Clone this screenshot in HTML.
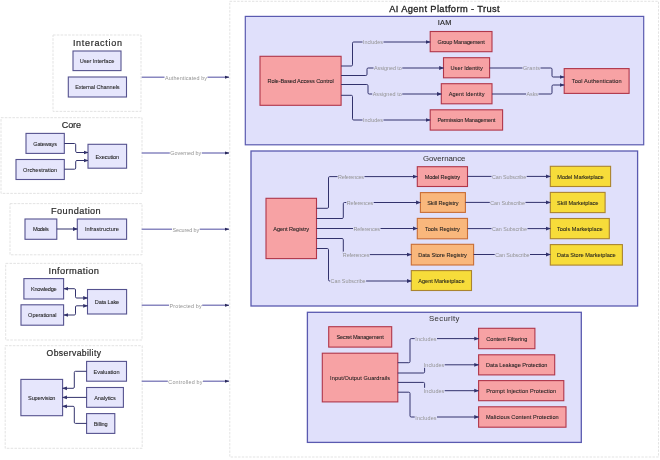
<!DOCTYPE html>
<html><head><meta charset="utf-8"><style>
html,body{margin:0;padding:0;background:#fff;width:660px;height:460px;overflow:hidden}
svg{display:block;font-family:"Liberation Sans",sans-serif;filter:blur(0.35px)}
</style></head><body>
<svg width="660" height="460" viewBox="0 0 660 460">
<defs>
<marker id="a" viewBox="0 0 10 10" refX="9" refY="5" markerUnits="userSpaceOnUse" markerWidth="4.8" markerHeight="4.8" orient="auto"><path d="M0,1 L10,5 L0,9 z" fill="#32326c"/></marker>
<marker id="as" viewBox="0 0 10 10" refX="1" refY="5" markerUnits="userSpaceOnUse" markerWidth="4.8" markerHeight="4.8" orient="auto"><path d="M10,1 L0,5 L10,9 z" fill="#32326c"/></marker>
<marker id="b" viewBox="0 0 10 10" refX="9" refY="5" markerUnits="userSpaceOnUse" markerWidth="4.5" markerHeight="4.5" orient="auto"><path d="M0,1.5 L10,5 L0,8.5 z" fill="#2a2a5a"/></marker>
</defs>
<rect x="53.0" y="35.0" width="88.0" height="76.4" fill="#ffffff" stroke="#e0e0e0" stroke-width="0.9" stroke-dasharray="2.6 1.2"/>
<rect x="1.0" y="117.7" width="141.0" height="75.7" fill="#ffffff" stroke="#e0e0e0" stroke-width="0.9" stroke-dasharray="2.6 1.2"/>
<rect x="10.0" y="203.6" width="132.0" height="51.2" fill="#ffffff" stroke="#e0e0e0" stroke-width="0.9" stroke-dasharray="2.6 1.2"/>
<rect x="5.7" y="263.4" width="136.3" height="76.6" fill="#ffffff" stroke="#e0e0e0" stroke-width="0.9" stroke-dasharray="2.6 1.2"/>
<rect x="5.2" y="345.7" width="137.0" height="102.6" fill="#ffffff" stroke="#e0e0e0" stroke-width="0.9" stroke-dasharray="2.6 1.2"/>
<rect x="229.8" y="1.3" width="428.7" height="455.7" fill="#ffffff" stroke="#e0e0e0" stroke-width="0.9" stroke-dasharray="2.4 1.3"/>
<text x="97.4" y="45.5" font-size="9.01" fill="#2a2a2a" text-anchor="middle" textLength="49.0" lengthAdjust="spacing" stroke="#2a2a2a" stroke-width="0.2">Interaction</text>
<text x="71.4" y="128.2" font-size="9.01" fill="#2a2a2a" text-anchor="middle" textLength="19.2" lengthAdjust="spacing" stroke="#2a2a2a" stroke-width="0.2">Core</text>
<text x="75.9" y="213.8" font-size="9.16" fill="#2a2a2a" text-anchor="middle" textLength="49.6" lengthAdjust="spacing" stroke="#2a2a2a" stroke-width="0.2">Foundation</text>
<text x="73.7" y="273.5" font-size="9.30" fill="#2a2a2a" text-anchor="middle" textLength="50.4" lengthAdjust="spacing" stroke="#2a2a2a" stroke-width="0.2">Information</text>
<text x="73.8" y="355.8" font-size="8.58" fill="#2a2a2a" text-anchor="middle" textLength="54.4" lengthAdjust="spacing" stroke="#2a2a2a" stroke-width="0.2">Observability</text>
<path d="M141.7,77.2 L229.0,77.2" fill="none" stroke="#8987c0" stroke-width="1.45" marker-end="url(#b)"/>
<rect x="164.5" y="74.2" width="43.0" height="6" fill="#ffffff"/>
<text x="186.0" y="77.5" font-size="5.4" fill="#939393" font-weight="normal" text-anchor="middle" dominant-baseline="central" textLength="42.0" lengthAdjust="spacing">Authenticated by</text>
<path d="M141.7,153.0 L229.0,153.0" fill="none" stroke="#8987c0" stroke-width="1.45" marker-end="url(#b)"/>
<rect x="169.8" y="150.0" width="32.0" height="6" fill="#ffffff"/>
<text x="185.8" y="153.3" font-size="5.4" fill="#939393" font-weight="normal" text-anchor="middle" dominant-baseline="central" textLength="31.0" lengthAdjust="spacing">Governed by</text>
<path d="M141.7,229.2 L229.0,229.2" fill="none" stroke="#8987c0" stroke-width="1.45" marker-end="url(#b)"/>
<rect x="172.0" y="226.2" width="27.7" height="6" fill="#ffffff"/>
<text x="185.8" y="229.5" font-size="5.4" fill="#939393" font-weight="normal" text-anchor="middle" dominant-baseline="central" textLength="26.7" lengthAdjust="spacing">Secured by</text>
<path d="M141.7,305.3 L229.0,305.3" fill="none" stroke="#8987c0" stroke-width="1.45" marker-end="url(#b)"/>
<rect x="169.0" y="302.3" width="33.2" height="6" fill="#ffffff"/>
<text x="185.6" y="305.7" font-size="5.4" fill="#939393" font-weight="normal" text-anchor="middle" dominant-baseline="central" textLength="32.2" lengthAdjust="spacing">Protected by</text>
<path d="M141.7,381.2 L229.0,381.2" fill="none" stroke="#8987c0" stroke-width="1.45" marker-end="url(#b)"/>
<rect x="167.8" y="378.2" width="35.2" height="6" fill="#ffffff"/>
<text x="185.4" y="381.6" font-size="5.4" fill="#939393" font-weight="normal" text-anchor="middle" dominant-baseline="central" textLength="34.2" lengthAdjust="spacing">Controlled by</text>
<rect x="73.0" y="51.0" width="48.0" height="19.6" fill="#e6e6fc" stroke="#55528f" stroke-width="1.1"/>
<text x="97.0" y="61.0" font-size="5.6" fill="#1e1e1e" font-weight="normal" text-anchor="middle" dominant-baseline="central" textLength="34.6" lengthAdjust="spacing" stroke="#1e1e1e" stroke-width="0.07">User Interface</text>
<rect x="68.3" y="77.0" width="58.2" height="20.0" fill="#e6e6fc" stroke="#55528f" stroke-width="1.1"/>
<text x="97.4" y="87.2" font-size="5.6" fill="#1e1e1e" font-weight="normal" text-anchor="middle" dominant-baseline="central" textLength="44.5" lengthAdjust="spacing" stroke="#1e1e1e" stroke-width="0.07">External Channels</text>
<rect x="26.0" y="133.4" width="38.3" height="20.0" fill="#e6e6fc" stroke="#55528f" stroke-width="1.1"/>
<text x="45.1" y="143.7" font-size="5.6" fill="#1e1e1e" font-weight="normal" text-anchor="middle" dominant-baseline="central" textLength="23.8" lengthAdjust="spacing" stroke="#1e1e1e" stroke-width="0.07">Gateways</text>
<rect x="16.0" y="159.5" width="48.3" height="20.0" fill="#e6e6fc" stroke="#55528f" stroke-width="1.1"/>
<text x="40.1" y="169.8" font-size="5.6" fill="#1e1e1e" font-weight="normal" text-anchor="middle" dominant-baseline="central" textLength="34.0" lengthAdjust="spacing" stroke="#1e1e1e" stroke-width="0.07">Orchestration</text>
<rect x="88.0" y="144.3" width="38.6" height="23.9" fill="#e6e6fc" stroke="#55528f" stroke-width="1.1"/>
<text x="107.3" y="156.5" font-size="5.6" fill="#1e1e1e" font-weight="normal" text-anchor="middle" dominant-baseline="central" textLength="23.6" lengthAdjust="spacing" stroke="#1e1e1e" stroke-width="0.07">Execution</text>
<rect x="25.0" y="219.0" width="31.8" height="20.3" fill="#e6e6fc" stroke="#55528f" stroke-width="1.1"/>
<text x="40.9" y="229.4" font-size="5.6" fill="#1e1e1e" font-weight="normal" text-anchor="middle" dominant-baseline="central" textLength="15.9" lengthAdjust="spacing" stroke="#1e1e1e" stroke-width="0.07">Models</text>
<rect x="77.3" y="219.0" width="49.3" height="20.3" fill="#e6e6fc" stroke="#55528f" stroke-width="1.1"/>
<text x="101.9" y="229.4" font-size="5.6" fill="#1e1e1e" font-weight="normal" text-anchor="middle" dominant-baseline="central" textLength="34.0" lengthAdjust="spacing" stroke="#1e1e1e" stroke-width="0.07">Infrastructure</text>
<rect x="23.9" y="278.6" width="39.7" height="20.4" fill="#e6e6fc" stroke="#55528f" stroke-width="1.1"/>
<text x="43.8" y="289.1" font-size="5.6" fill="#1e1e1e" font-weight="normal" text-anchor="middle" dominant-baseline="central" textLength="25.7" lengthAdjust="spacing" stroke="#1e1e1e" stroke-width="0.07">Knowledge</text>
<rect x="21.0" y="304.8" width="42.6" height="20.4" fill="#e6e6fc" stroke="#55528f" stroke-width="1.1"/>
<text x="42.3" y="315.2" font-size="5.6" fill="#1e1e1e" font-weight="normal" text-anchor="middle" dominant-baseline="central" textLength="28.4" lengthAdjust="spacing" stroke="#1e1e1e" stroke-width="0.07">Operational</text>
<rect x="87.5" y="289.5" width="39.1" height="24.5" fill="#e6e6fc" stroke="#55528f" stroke-width="1.1"/>
<text x="107.0" y="302.0" font-size="5.6" fill="#1e1e1e" font-weight="normal" text-anchor="middle" dominant-baseline="central" textLength="24.3" lengthAdjust="spacing" stroke="#1e1e1e" stroke-width="0.07">Data Lake</text>
<rect x="86.6" y="361.4" width="39.9" height="19.8" fill="#e6e6fc" stroke="#55528f" stroke-width="1.1"/>
<text x="106.5" y="371.5" font-size="5.6" fill="#1e1e1e" font-weight="normal" text-anchor="middle" dominant-baseline="central" textLength="26.1" lengthAdjust="spacing" stroke="#1e1e1e" stroke-width="0.07">Evaluation</text>
<rect x="86.6" y="387.5" width="36.8" height="19.8" fill="#e6e6fc" stroke="#55528f" stroke-width="1.1"/>
<text x="105.0" y="397.6" font-size="5.6" fill="#1e1e1e" font-weight="normal" text-anchor="middle" dominant-baseline="central" textLength="21.7" lengthAdjust="spacing" stroke="#1e1e1e" stroke-width="0.07">Analytics</text>
<rect x="86.6" y="413.6" width="28.2" height="19.8" fill="#e6e6fc" stroke="#55528f" stroke-width="1.1"/>
<text x="100.7" y="423.8" font-size="5.6" fill="#1e1e1e" font-weight="normal" text-anchor="middle" dominant-baseline="central" textLength="13.8" lengthAdjust="spacing" stroke="#1e1e1e" stroke-width="0.07">Billing</text>
<rect x="20.9" y="379.4" width="41.7" height="36.3" fill="#e6e6fc" stroke="#55528f" stroke-width="1.1"/>
<text x="41.8" y="397.8" font-size="5.6" fill="#1e1e1e" font-weight="normal" text-anchor="middle" dominant-baseline="central" textLength="27.4" lengthAdjust="spacing" stroke="#1e1e1e" stroke-width="0.07">Supervision</text>
<path d="M64.3,143.5 L74.5,143.5 Q75.7,143.5 75.7,144.7 L75.7,151.3 Q75.7,152.5 76.9,152.5 L88.0,152.5" fill="none" stroke="#32326c" stroke-width="1.0" marker-end="url(#a)"/>
<path d="M64.3,169.2 L74.5,169.2 Q75.7,169.2 75.7,168.0 L75.7,161.7 Q75.7,160.5 76.9,160.5 L88.0,160.5" fill="none" stroke="#32326c" stroke-width="1.0" marker-end="url(#a)"/>
<path d="M56.8,229.0 L77.3,229.0" fill="none" stroke="#32326c" stroke-width="1.0" marker-end="url(#a)"/>
<path d="M64.0,288.7 L74.3,288.7 Q75.5,288.7 75.5,289.9 L75.5,296.8 Q75.5,298.0 76.7,298.0 L87.5,298.0" fill="none" stroke="#32326c" stroke-width="1.0" marker-end="url(#a)" marker-start="url(#as)"/>
<path d="M64.0,315.0 L74.3,315.0 Q75.5,315.0 75.5,313.8 L75.5,307.0 Q75.5,305.8 76.7,305.8 L87.5,305.8" fill="none" stroke="#32326c" stroke-width="1.0" marker-end="url(#a)" marker-start="url(#as)"/>
<path d="M86.6,371.3 L75.5,371.3 Q74.3,371.3 74.3,372.5 L74.3,387.1 Q74.3,388.3 73.1,388.3 L62.6,388.3" fill="none" stroke="#32326c" stroke-width="1.0" marker-end="url(#a)"/>
<path d="M86.6,397.4 L62.6,397.4" fill="none" stroke="#32326c" stroke-width="1.0" marker-end="url(#a)"/>
<path d="M86.6,423.4 L75.5,423.4 Q74.3,423.4 74.3,422.2 L74.3,407.5 Q74.3,406.3 73.1,406.3 L62.6,406.3" fill="none" stroke="#32326c" stroke-width="1.0" marker-end="url(#a)"/>
<text x="444.4" y="12.0" font-size="9.30" fill="#222222" text-anchor="middle" textLength="110.5" lengthAdjust="spacing" stroke="#222222" stroke-width="0.3">AI Agent Platform - Trust</text>
<rect x="245.3" y="16.4" width="398.4" height="128.4" fill="#e0e0fb" stroke="#5a5ab0" stroke-width="1.2"/>
<rect x="251.0" y="151.0" width="386.6" height="155.0" fill="#e0e0fb" stroke="#5a5ab0" stroke-width="1.3"/>
<rect x="307.4" y="312.3" width="273.9" height="130.1" fill="#e0e0fb" stroke="#5a5ab0" stroke-width="1.3"/>
<text x="444.5" y="25.1" font-size="7.41" fill="#2a2a2a" text-anchor="middle" textLength="13.7" lengthAdjust="spacing" stroke="#2a2a2a" stroke-width="0.15">IAM</text>
<text x="444.2" y="160.7" font-size="7.85" fill="#383838" text-anchor="middle" textLength="42.5" lengthAdjust="spacing" stroke="#383838" stroke-width="0.05">Governance</text>
<text x="444.2" y="320.8" font-size="7.70" fill="#383838" text-anchor="middle" textLength="30.3" lengthAdjust="spacing" stroke="#383838" stroke-width="0.05">Security</text>
<rect x="260.0" y="56.3" width="81.1" height="49.0" fill="#f7a2a4" stroke="#b0364a" stroke-width="1.1"/>
<text x="300.6" y="81.0" font-size="5.6" fill="#1e1e1e" font-weight="normal" text-anchor="middle" dominant-baseline="central" textLength="66.3" lengthAdjust="spacing" stroke="#1e1e1e" stroke-width="0.07">Role-Based Access Control</text>
<rect x="430.2" y="31.5" width="61.8" height="20.2" fill="#f7a2a4" stroke="#b0364a" stroke-width="1.1"/>
<text x="461.1" y="41.9" font-size="5.6" fill="#1e1e1e" font-weight="normal" text-anchor="middle" dominant-baseline="central" textLength="47.2" lengthAdjust="spacing" stroke="#1e1e1e" stroke-width="0.07">Group Management</text>
<rect x="443.5" y="57.7" width="46.1" height="20.1" fill="#f7a2a4" stroke="#b0364a" stroke-width="1.1"/>
<text x="466.6" y="68.0" font-size="5.6" fill="#1e1e1e" font-weight="normal" text-anchor="middle" dominant-baseline="central" textLength="32.2" lengthAdjust="spacing" stroke="#1e1e1e" stroke-width="0.07">User Identity</text>
<rect x="441.3" y="83.7" width="50.7" height="20.1" fill="#f7a2a4" stroke="#b0364a" stroke-width="1.1"/>
<text x="466.6" y="94.0" font-size="5.6" fill="#1e1e1e" font-weight="normal" text-anchor="middle" dominant-baseline="central" textLength="35.8" lengthAdjust="spacing" stroke="#1e1e1e" stroke-width="0.07">Agent Identity</text>
<rect x="430.2" y="109.8" width="72.4" height="20.3" fill="#f7a2a4" stroke="#b0364a" stroke-width="1.1"/>
<text x="466.4" y="120.2" font-size="5.6" fill="#1e1e1e" font-weight="normal" text-anchor="middle" dominant-baseline="central" textLength="58.0" lengthAdjust="spacing" stroke="#1e1e1e" stroke-width="0.07">Permission Management</text>
<rect x="564.2" y="68.6" width="64.9" height="24.8" fill="#f7a2a4" stroke="#b0364a" stroke-width="1.1"/>
<text x="596.7" y="81.2" font-size="5.6" fill="#1e1e1e" font-weight="normal" text-anchor="middle" dominant-baseline="central" textLength="50.0" lengthAdjust="spacing" stroke="#1e1e1e" stroke-width="0.07">Tool Authentication</text>
<path d="M341.1,66.0 L351.3,66.0 Q352.5,66.0 352.5,64.8 L352.5,43.2 Q352.5,42.0 353.7,42.0 L430.2,42.0" fill="none" stroke="#32326c" stroke-width="1.0" marker-end="url(#a)"/>
<path d="M341.1,75.5 L365.8,75.5 Q367.0,75.5 367.0,74.3 L367.0,69.2 Q367.0,68.0 368.2,68.0 L443.5,68.0" fill="none" stroke="#32326c" stroke-width="1.0" marker-end="url(#a)"/>
<path d="M341.1,84.5 L366.8,84.5 Q368.0,84.5 368.0,85.7 L368.0,92.8 Q368.0,94.0 369.2,94.0 L441.3,94.0" fill="none" stroke="#32326c" stroke-width="1.0" marker-end="url(#a)"/>
<path d="M341.1,95.3 L351.3,95.3 Q352.5,95.3 352.5,96.5 L352.5,118.8 Q352.5,120.0 353.7,120.0 L430.2,120.0" fill="none" stroke="#32326c" stroke-width="1.0" marker-end="url(#a)"/>
<path d="M489.6,68.0 L550.8,68.0 Q552.0,68.0 552.0,69.2 L552.0,75.8 Q552.0,77.0 553.2,77.0 L564.2,77.0" fill="none" stroke="#32326c" stroke-width="1.0" marker-end="url(#a)"/>
<path d="M492.0,94.0 L550.8,94.0 Q552.0,94.0 552.0,92.8 L552.0,86.2 Q552.0,85.0 553.2,85.0 L564.2,85.0" fill="none" stroke="#32326c" stroke-width="1.0" marker-end="url(#a)"/>
<rect x="362.5" y="39.0" width="21.0" height="6" fill="#e0e0fb"/>
<text x="373.0" y="42.4" font-size="5.4" fill="#939393" font-weight="normal" text-anchor="middle" dominant-baseline="central" textLength="20.0" lengthAdjust="spacing">Includes</text>
<rect x="373.5" y="65.0" width="28.8" height="6" fill="#e0e0fb"/>
<text x="387.9" y="68.3" font-size="5.4" fill="#939393" font-weight="normal" text-anchor="middle" dominant-baseline="central" textLength="27.8" lengthAdjust="spacing">Assigned to</text>
<rect x="372.2" y="91.0" width="30.1" height="6" fill="#e0e0fb"/>
<text x="387.2" y="94.3" font-size="5.4" fill="#939393" font-weight="normal" text-anchor="middle" dominant-baseline="central" textLength="29.1" lengthAdjust="spacing">Assigned to</text>
<rect x="362.5" y="117.0" width="21.0" height="6" fill="#e0e0fb"/>
<text x="373.0" y="120.3" font-size="5.4" fill="#939393" font-weight="normal" text-anchor="middle" dominant-baseline="central" textLength="20.0" lengthAdjust="spacing">Includes</text>
<rect x="522.5" y="65.0" width="18.0" height="6" fill="#e0e0fb"/>
<text x="531.5" y="68.3" font-size="5.4" fill="#939393" font-weight="normal" text-anchor="middle" dominant-baseline="central" textLength="17.0" lengthAdjust="spacing">Grants</text>
<rect x="526.1" y="91.0" width="12.4" height="6" fill="#e0e0fb"/>
<text x="532.3" y="94.3" font-size="5.4" fill="#939393" font-weight="normal" text-anchor="middle" dominant-baseline="central" textLength="11.4" lengthAdjust="spacing">Asks</text>
<rect x="266.0" y="198.3" width="50.5" height="60.3" fill="#f7a2a4" stroke="#b0364a" stroke-width="1.1"/>
<text x="291.2" y="228.7" font-size="5.6" fill="#1e1e1e" font-weight="normal" text-anchor="middle" dominant-baseline="central" textLength="35.9" lengthAdjust="spacing" stroke="#1e1e1e" stroke-width="0.07">Agent Registry</text>
<rect x="417.3" y="166.7" width="50.2" height="19.8" fill="#f7a2a4" stroke="#b0364a" stroke-width="1.1"/>
<text x="442.4" y="176.8" font-size="5.6" fill="#1e1e1e" font-weight="normal" text-anchor="middle" dominant-baseline="central" textLength="35.5" lengthAdjust="spacing" stroke="#1e1e1e" stroke-width="0.07">Model Registry</text>
<rect x="420.4" y="192.6" width="45.0" height="19.8" fill="#f9b77c" stroke="#c86e36" stroke-width="1.1"/>
<text x="442.9" y="202.8" font-size="5.6" fill="#1e1e1e" font-weight="normal" text-anchor="middle" dominant-baseline="central" textLength="31.4" lengthAdjust="spacing" stroke="#1e1e1e" stroke-width="0.07">Skill Registry</text>
<rect x="417.3" y="218.4" width="50.2" height="20.4" fill="#f9b77c" stroke="#c86e36" stroke-width="1.1"/>
<text x="442.4" y="228.9" font-size="5.6" fill="#1e1e1e" font-weight="normal" text-anchor="middle" dominant-baseline="central" textLength="35.0" lengthAdjust="spacing" stroke="#1e1e1e" stroke-width="0.07">Tools Registry</text>
<rect x="411.3" y="244.3" width="62.3" height="20.7" fill="#f9b77c" stroke="#c86e36" stroke-width="1.1"/>
<text x="442.5" y="254.9" font-size="5.6" fill="#1e1e1e" font-weight="normal" text-anchor="middle" dominant-baseline="central" textLength="48.7" lengthAdjust="spacing" stroke="#1e1e1e" stroke-width="0.07">Data Store Registry</text>
<rect x="411.3" y="270.6" width="60.2" height="19.9" fill="#f7dc3a" stroke="#aa8430" stroke-width="1.1"/>
<text x="441.4" y="280.8" font-size="5.6" fill="#1e1e1e" font-weight="normal" text-anchor="middle" dominant-baseline="central" textLength="46.2" lengthAdjust="spacing" stroke="#1e1e1e" stroke-width="0.07">Agent Marketplace</text>
<rect x="550.3" y="166.3" width="60.3" height="20.2" fill="#f7dc3a" stroke="#aa8430" stroke-width="1.1"/>
<text x="580.5" y="176.7" font-size="5.6" fill="#1e1e1e" font-weight="normal" text-anchor="middle" dominant-baseline="central" textLength="46.3" lengthAdjust="spacing" stroke="#1e1e1e" stroke-width="0.07">Model Marketplace</text>
<rect x="550.3" y="192.4" width="54.8" height="20.2" fill="#f7dc3a" stroke="#aa8430" stroke-width="1.1"/>
<text x="577.7" y="202.8" font-size="5.6" fill="#1e1e1e" font-weight="normal" text-anchor="middle" dominant-baseline="central" textLength="41.4" lengthAdjust="spacing" stroke="#1e1e1e" stroke-width="0.07">Skill Marketplace</text>
<rect x="550.3" y="218.5" width="59.0" height="20.2" fill="#f7dc3a" stroke="#aa8430" stroke-width="1.1"/>
<text x="579.8" y="228.8" font-size="5.6" fill="#1e1e1e" font-weight="normal" text-anchor="middle" dominant-baseline="central" textLength="45.6" lengthAdjust="spacing" stroke="#1e1e1e" stroke-width="0.07">Tools Marketplace</text>
<rect x="550.3" y="244.6" width="72.1" height="20.5" fill="#f7dc3a" stroke="#aa8430" stroke-width="1.1"/>
<text x="586.3" y="255.1" font-size="5.6" fill="#1e1e1e" font-weight="normal" text-anchor="middle" dominant-baseline="central" textLength="58.7" lengthAdjust="spacing" stroke="#1e1e1e" stroke-width="0.07">Data Store Marketplace</text>
<path d="M316.5,208.3 L327.3,208.3 Q328.5,208.3 328.5,207.1 L328.5,177.8 Q328.5,176.6 329.7,176.6 L417.3,176.6" fill="none" stroke="#32326c" stroke-width="1.0" marker-end="url(#a)"/>
<path d="M316.5,218.5 L342.1,218.5 Q343.3,218.5 343.3,217.3 L343.3,203.7 Q343.3,202.5 344.5,202.5 L420.4,202.5" fill="none" stroke="#32326c" stroke-width="1.0" marker-end="url(#a)"/>
<path d="M316.5,228.5 L417.3,228.5" fill="none" stroke="#32326c" stroke-width="1.0" marker-end="url(#a)"/>
<path d="M316.5,238.5 L342.1,238.5 Q343.3,238.5 343.3,239.7 L343.3,253.4 Q343.3,254.6 344.5,254.6 L411.3,254.6" fill="none" stroke="#32326c" stroke-width="1.0" marker-end="url(#a)"/>
<path d="M316.5,248.5 L327.3,248.5 Q328.5,248.5 328.5,249.7 L328.5,279.8 Q328.5,281.0 329.7,281.0 L411.3,281.0" fill="none" stroke="#32326c" stroke-width="1.0" marker-end="url(#a)"/>
<path d="M467.5,176.4 L550.3,176.4" fill="none" stroke="#32326c" stroke-width="1.0" marker-end="url(#a)"/>
<path d="M465.4,202.4 L550.3,202.4" fill="none" stroke="#32326c" stroke-width="1.0" marker-end="url(#a)"/>
<path d="M467.5,228.6 L550.3,228.6" fill="none" stroke="#32326c" stroke-width="1.0" marker-end="url(#a)"/>
<path d="M473.6,254.5 L550.3,254.5" fill="none" stroke="#32326c" stroke-width="1.0" marker-end="url(#a)"/>
<rect x="337.5" y="173.6" width="27.0" height="6" fill="#e0e0fb"/>
<text x="351.0" y="176.9" font-size="5.4" fill="#939393" font-weight="normal" text-anchor="middle" dominant-baseline="central" textLength="26.0" lengthAdjust="spacing">References</text>
<rect x="346.3" y="199.5" width="27.4" height="6" fill="#e0e0fb"/>
<text x="360.0" y="202.8" font-size="5.4" fill="#939393" font-weight="normal" text-anchor="middle" dominant-baseline="central" textLength="26.4" lengthAdjust="spacing">References</text>
<rect x="353.0" y="225.4" width="27.5" height="6" fill="#e0e0fb"/>
<text x="366.8" y="228.8" font-size="5.4" fill="#939393" font-weight="normal" text-anchor="middle" dominant-baseline="central" textLength="26.5" lengthAdjust="spacing">References</text>
<rect x="342.3" y="251.6" width="27.5" height="6" fill="#e0e0fb"/>
<text x="356.1" y="254.9" font-size="5.4" fill="#939393" font-weight="normal" text-anchor="middle" dominant-baseline="central" textLength="26.5" lengthAdjust="spacing">References</text>
<rect x="330.1" y="278.0" width="36.0" height="6" fill="#e0e0fb"/>
<text x="348.1" y="281.4" font-size="5.4" fill="#939393" font-weight="normal" text-anchor="middle" dominant-baseline="central" textLength="35.0" lengthAdjust="spacing">Can Subscribe</text>
<rect x="491.5" y="173.4" width="35.2" height="6" fill="#e0e0fb"/>
<text x="509.1" y="176.8" font-size="5.4" fill="#939393" font-weight="normal" text-anchor="middle" dominant-baseline="central" textLength="34.2" lengthAdjust="spacing">Can Subscribe</text>
<rect x="489.8" y="199.4" width="35.7" height="6" fill="#e0e0fb"/>
<text x="507.6" y="202.8" font-size="5.4" fill="#939393" font-weight="normal" text-anchor="middle" dominant-baseline="central" textLength="34.7" lengthAdjust="spacing">Can Subscribe</text>
<rect x="491.5" y="225.6" width="36.0" height="6" fill="#e0e0fb"/>
<text x="509.5" y="228.9" font-size="5.4" fill="#939393" font-weight="normal" text-anchor="middle" dominant-baseline="central" textLength="35.0" lengthAdjust="spacing">Can Subscribe</text>
<rect x="494.7" y="251.5" width="35.3" height="6" fill="#e0e0fb"/>
<text x="512.4" y="254.8" font-size="5.4" fill="#939393" font-weight="normal" text-anchor="middle" dominant-baseline="central" textLength="34.3" lengthAdjust="spacing">Can Subscribe</text>
<rect x="328.7" y="326.7" width="63.0" height="20.4" fill="#f7a2a4" stroke="#b0364a" stroke-width="1.1"/>
<text x="360.2" y="337.1" font-size="5.6" fill="#1e1e1e" font-weight="normal" text-anchor="middle" dominant-baseline="central" textLength="47.2" lengthAdjust="spacing" stroke="#1e1e1e" stroke-width="0.07">Secret Management</text>
<rect x="322.3" y="353.2" width="75.5" height="48.7" fill="#f7a2a4" stroke="#b0364a" stroke-width="1.1"/>
<text x="360.1" y="377.8" font-size="5.6" fill="#1e1e1e" font-weight="normal" text-anchor="middle" dominant-baseline="central" textLength="60.0" lengthAdjust="spacing" stroke="#1e1e1e" stroke-width="0.07">Input/Output Guardrails</text>
<rect x="478.6" y="328.3" width="56.3" height="20.4" fill="#f7a2a4" stroke="#b0364a" stroke-width="1.1"/>
<text x="506.8" y="338.8" font-size="5.6" fill="#1e1e1e" font-weight="normal" text-anchor="middle" dominant-baseline="central" textLength="41.1" lengthAdjust="spacing" stroke="#1e1e1e" stroke-width="0.07">Content Filtering</text>
<rect x="478.6" y="354.8" width="76.1" height="20.1" fill="#f7a2a4" stroke="#b0364a" stroke-width="1.1"/>
<text x="516.7" y="365.1" font-size="5.6" fill="#1e1e1e" font-weight="normal" text-anchor="middle" dominant-baseline="central" textLength="61.5" lengthAdjust="spacing" stroke="#1e1e1e" stroke-width="0.07">Data Leakage Protection</text>
<rect x="478.6" y="380.6" width="85.2" height="20.1" fill="#f7a2a4" stroke="#b0364a" stroke-width="1.1"/>
<text x="521.2" y="390.9" font-size="5.6" fill="#1e1e1e" font-weight="normal" text-anchor="middle" dominant-baseline="central" textLength="70.0" lengthAdjust="spacing" stroke="#1e1e1e" stroke-width="0.07">Prompt Injection Protection</text>
<rect x="478.6" y="406.8" width="87.4" height="20.4" fill="#f7a2a4" stroke="#b0364a" stroke-width="1.1"/>
<text x="522.3" y="417.2" font-size="5.6" fill="#1e1e1e" font-weight="normal" text-anchor="middle" dominant-baseline="central" textLength="72.8" lengthAdjust="spacing" stroke="#1e1e1e" stroke-width="0.07">Malicious Content Protection</text>
<path d="M397.8,362.7 L408.8,362.7 Q410.0,362.7 410.0,361.5 L410.0,339.8 Q410.0,338.6 411.2,338.6 L478.6,338.6" fill="none" stroke="#32326c" stroke-width="1.0" marker-end="url(#a)"/>
<path d="M397.8,373.0 L423.4,373.0 Q424.6,373.0 424.6,371.8 L424.6,366.0 Q424.6,364.8 425.8,364.8 L478.6,364.8" fill="none" stroke="#32326c" stroke-width="1.0" marker-end="url(#a)"/>
<path d="M397.8,382.4 L423.4,382.4 Q424.6,382.4 424.6,383.6 L424.6,389.5 Q424.6,390.7 425.8,390.7 L478.6,390.7" fill="none" stroke="#32326c" stroke-width="1.0" marker-end="url(#a)"/>
<path d="M397.8,392.2 L408.8,392.2 Q410.0,392.2 410.0,393.4 L410.0,415.8 Q410.0,417.0 411.2,417.0 L478.6,417.0" fill="none" stroke="#32326c" stroke-width="1.0" marker-end="url(#a)"/>
<rect x="414.7" y="335.7" width="22.3" height="6" fill="#e0e0fb"/>
<text x="425.9" y="339.1" font-size="5.4" fill="#939393" font-weight="normal" text-anchor="middle" dominant-baseline="central" textLength="21.3" lengthAdjust="spacing">Includes</text>
<rect x="423.3" y="361.8" width="21.4" height="6" fill="#e0e0fb"/>
<text x="434.0" y="365.2" font-size="5.4" fill="#939393" font-weight="normal" text-anchor="middle" dominant-baseline="central" textLength="20.4" lengthAdjust="spacing">Includes</text>
<rect x="423.3" y="387.8" width="21.4" height="6" fill="#e0e0fb"/>
<text x="434.0" y="391.2" font-size="5.4" fill="#939393" font-weight="normal" text-anchor="middle" dominant-baseline="central" textLength="20.4" lengthAdjust="spacing">Includes</text>
<rect x="414.7" y="414.1" width="22.3" height="6" fill="#e0e0fb"/>
<text x="425.9" y="417.5" font-size="5.4" fill="#939393" font-weight="normal" text-anchor="middle" dominant-baseline="central" textLength="21.3" lengthAdjust="spacing">Includes</text>
</svg>
</body></html>
